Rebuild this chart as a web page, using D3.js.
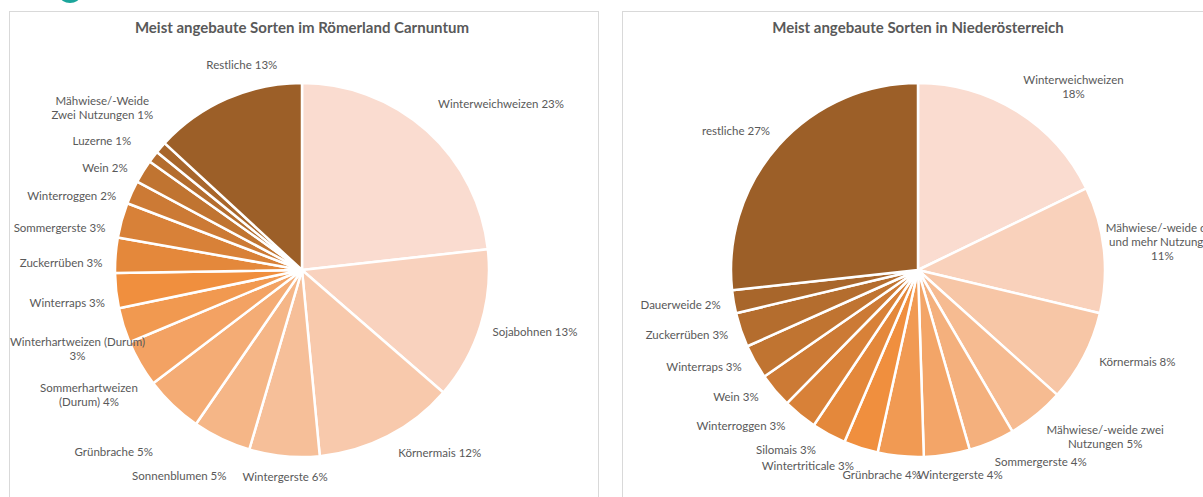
<!DOCTYPE html>
<html>
<head>
<meta charset="utf-8">
<script src="https://cdn.jsdelivr.net/npm/d3@7/dist/d3.min.js"></script>
<style>
  body { margin: 0; background: #fff; overflow: hidden; }
  text { font-family: Lato, "Open Sans", sans-serif; fill: #595959; }
</style>
</head>
<body>
<div id="chart"></div>
<script>
// ---- data: Römerland Carnuntum ----
const leftTitle = "Meist angebaute Sorten im Römerland Carnuntum";
const leftCategories = ["Winterweichweizen", "Sojabohnen", "Körnermais", "Wintergerste", "Sonnenblumen",
  "Grünbrache", "Sommerhartweizen (Durum)", "Winterhartweizen (Durum)", "Winterraps", "Zuckerrüben",
  "Sommergerste", "Winterroggen", "Wein", "Luzerne", "Mähwiese/-Weide Zwei Nutzungen", "Restliche"];
const leftValues = [23, 13, 12, 6, 5, 5, 4, 3, 3, 3, 3, 2, 2, 1, 1, 13];
const leftLabels = ["Winterweichweizen 23%", "Sojabohnen 13%", "Körnermais 12%", "Wintergerste 6%",
  "Sonnenblumen 5%", "Grünbrache 5%", "Sommerhartweizen\n(Durum) 4%", "Winterhartweizen (Durum)\n3%",
  "Winterraps 3%", "Zuckerrüben 3%", "Sommergerste 3%", "Winterroggen 2%", "Wein 2%", "Luzerne 1%",
  "Mähwiese/-Weide\nZwei Nutzungen 1%", "Restliche 13%"];

// ---- data: Niederösterreich ----
const rightTitle = "Meist angebaute Sorten in Niederösterreich";
const rightCategories = ["Winterweichweizen", "Mähwiese/-weide drei und mehr Nutzungen", "Körnermais",
  "Mähwiese/-weide zwei Nutzungen", "Sommergerste", "Wintergerste", "Grünbrache", "Wintertriticale",
  "Silomais", "Winterroggen", "Wein", "Winterraps", "Zuckerrüben", "Dauerweide", "restliche"];
const rightValues = [18, 11, 8, 5, 4, 4, 4, 3, 3, 3, 3, 3, 3, 2, 27];
const rightLabels = ["Winterweichweizen\n18%", "Mähwiese/-weide drei\nund mehr Nutzungen\n11%", "Körnermais 8%",
  "Mähwiese/-weide zwei\nNutzungen 5%", "Sommergerste 4%", "Wintergerste 4%", "Grünbrache 4%",
  "Wintertriticale 3%", "Silomais 3%", "Winterroggen 3%", "Wein 3%", "Winterraps 3%", "Zuckerrüben 3%",
  "Dauerweide 2%", "restliche 27%"];

// label layout: [angle shift from slice middle (deg), distance from centre (px)]
const leftLabelPlace = [[8.4, 259], [-2.4, 241], [-9.7, 229], [-0.8, 208], [5.3, 240], [2.3, 262],
  [-0.4, 247], [-2.1, 238], [-1.6, 237], [-2.8, 241], [-5.7, 246], [-6.7, 242], [-4.4, 222],
  [-4.5, 238], [-1.9, 257], [7.3, 214]];
const rightLabelPlace = [[8.3, 240], [-0.3, 246], [-4.8, 238], [-9, 251], [-9.4, 228], [-2.7, 209],
  [4.7, 208], [11.5, 225], [7.8, 223], [9.4, 236], [5.2, 222], [5, 235], [3, 240], [1.4, 240], [-4.5, 229]];

const width = 1203, height = 497;

const svg = d3.select("#chart").append("svg")
  .attr("width", width)
  .attr("height", height);

// cut-off logo at the very top
svg.append("ellipse")
  .attr("cx", 70).attr("cy", -4)
  .attr("rx", 10).attr("ry", 7)
  .attr("fill", "#1ba59b");

// chart frames
svg.append("rect")
  .attr("x", 9.5).attr("y", 11.5)
  .attr("width", 589).attr("height", 520)
  .attr("fill", "none").attr("stroke", "#d9d9d9");
svg.append("rect")
  .attr("x", 622.5).attr("y", 11.5)
  .attr("width", 620).attr("height", 520)
  .attr("fill", "none").attr("stroke", "#d9d9d9");

function drawPie(cx, title, cats, vals, labels, place) {
  const cy = 270, r = 187;
  const n = cats.length;
  const mid = Math.round((n - 1) * 0.53);

  const color = d3.scaleLinear()
    .domain([0, mid, n - 1])
    .range(["#fadcd0", "#f08f3e", "#9c5f28"])
    .interpolate(d3.interpolateRgb);

  const data = cats.map((c, i) => ({ name: c, value: vals[i], label: labels[i], i: i }));
  const arcs = d3.pie().sort(null).value(d => d.value)(data);
  const arc = d3.arc().innerRadius(0).outerRadius(r);

  const g = svg.append("g").attr("transform", `translate(${cx},${cy})`);

  g.selectAll("path")
    .data(arcs)
    .enter()
    .append("path")
    .attr("d", arc)
    .attr("fill", d => color(d.data.i))
    .attr("stroke", "#fff")
    .attr("stroke-width", 2.5)
    .attr("stroke-linejoin", "round");

  const lab = g.selectAll(".lbl")
    .data(arcs)
    .enter()
    .append("text")
    .attr("class", "lbl")
    .attr("text-anchor", "middle")
    .style("font-size", "11.5px");

  lab.each(function (d) {
    const p = place[d.data.i];
    const a = (d.startAngle + d.endAngle) / 2 + p[0] * Math.PI / 180;
    const x = p[1] * Math.sin(a);
    const y = -p[1] * Math.cos(a);
    const lines = d.data.label.split("\n");
    const lh = 14;
    const y0 = y - (lines.length - 1) * lh / 2;
    d3.select(this).selectAll("tspan")
      .data(lines)
      .enter()
      .append("tspan")
      .attr("x", x)
      .attr("y", (t, k) => y0 + k * lh)
      .attr("dy", "0.35em")
      .text(t => t);
  });

  svg.append("text")
    .attr("x", cx)
    .attr("y", 28)
    .attr("dy", "0.35em")
    .attr("text-anchor", "middle")
    .style("font-size", "15px")
    .style("font-weight", "bold")
    .text(title);
}

drawPie(302, leftTitle, leftCategories, leftValues, leftLabels, leftLabelPlace);
drawPie(918, rightTitle, rightCategories, rightValues, rightLabels, rightLabelPlace);
</script>
</body>
</html>
